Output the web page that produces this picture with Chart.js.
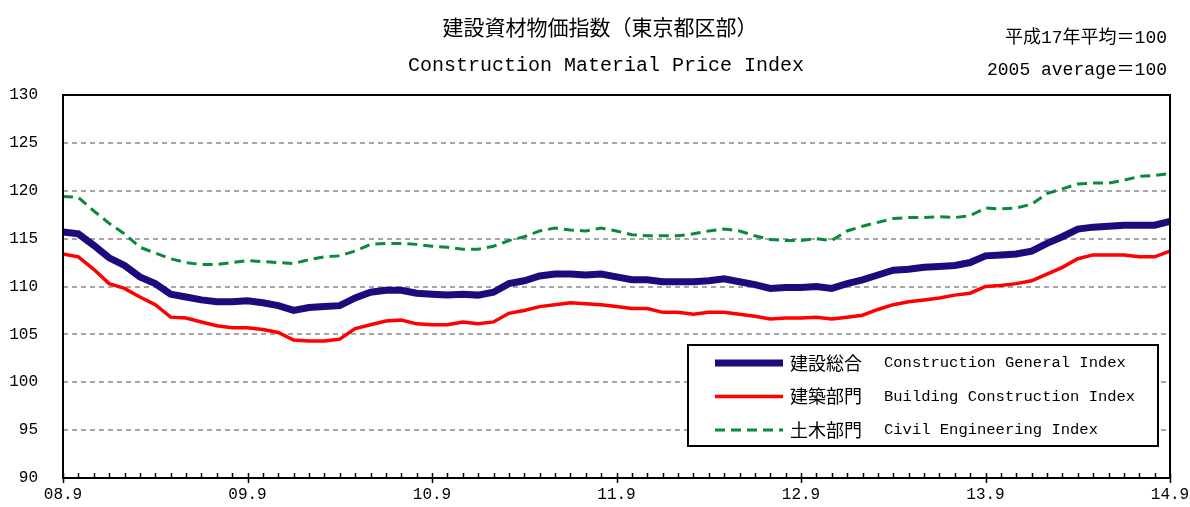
<!DOCTYPE html>
<html>
<head>
<meta charset="utf-8">
<script src="https://cdn.jsdelivr.net/npm/chart.js@4.4.1/dist/chart.umd.min.js"></script>
<style>
  body { margin: 0; background: #fff; }
  #wrap { width: 1190px; height: 507px; }
</style>
</head>
<body>
<div id="wrap"><canvas id="js--chart" width="1190" height="507"></canvas></div>
<script>
// monthly values, 2008.9 .. 2014.9
const generalIndex = [115.7, 115.5, 114.3, 113.0, 112.2, 111.0, 110.3, 109.2, 108.9, 108.6, 108.4, 108.4,
    108.5, 108.3, 108.0, 107.5, 107.8, 107.9, 108.0, 108.8, 109.4, 109.6, 109.6, 109.3,
    109.2, 109.1, 109.2, 109.1, 109.4, 110.3, 110.6, 111.1, 111.3, 111.3, 111.2, 111.3,
    111.0, 110.7, 110.7, 110.5, 110.5, 110.5, 110.6, 110.8, 110.5, 110.2, 109.8, 109.9,
    109.9, 110.0, 109.8, 110.3, 110.7, 111.2, 111.7, 111.8, 112.0, 112.1, 112.2, 112.5,
    113.2, 113.3, 113.4, 113.7, 114.5, 115.2, 116.0, 116.2, 116.3, 116.4, 116.4, 116.4,
    116.8];
const buildingIndex = [113.4, 113.1, 111.8, 110.3, 109.8, 108.9, 108.1, 106.8, 106.7, 106.3, 105.9, 105.7,
    105.7, 105.5, 105.2, 104.4, 104.3, 104.3, 104.5, 105.6, 106.0, 106.4, 106.5, 106.1,
    106.0, 106.0, 106.3, 106.1, 106.3, 107.2, 107.5, 107.9, 108.1, 108.3, 108.2, 108.1,
    107.9, 107.7, 107.7, 107.3, 107.3, 107.1, 107.3, 107.3, 107.1, 106.9, 106.6, 106.7,
    106.7, 106.8, 106.6, 106.8, 107.0, 107.6, 108.1, 108.4, 108.6, 108.8, 109.1, 109.3,
    110.0, 110.1, 110.3, 110.6, 111.3, 112.0, 112.9, 113.3, 113.3, 113.3, 113.1, 113.1,
    113.7];
const civilIndex = [119.4, 119.3, 117.9, 116.6, 115.5, 114.1, 113.5, 112.9, 112.5, 112.3, 112.3, 112.5,
    112.7, 112.6, 112.5, 112.4, 112.8, 113.1, 113.2, 113.7, 114.4, 114.5, 114.5, 114.4,
    114.2, 114.1, 113.9, 113.9, 114.2, 114.8, 115.2, 115.8, 116.1, 115.9, 115.8, 116.1,
    115.8, 115.4, 115.3, 115.3, 115.3, 115.5, 115.8, 116.0, 115.8, 115.3, 114.9, 114.8,
    114.8, 115.0, 114.8, 115.8, 116.3, 116.7, 117.1, 117.2, 117.2, 117.3, 117.2, 117.4,
    118.2, 118.1, 118.2, 118.6, 119.7, 120.2, 120.7, 120.8, 120.8, 121.1, 121.5, 121.6,
    121.8];

const yearTicks = ['08.9', '09.9', '10.9', '11.9', '12.9', '13.9', '14.9'];
const seriesJa = ['建設総合', '建築部門', '土木部門'];
const seriesEn = ['Construction General Index', 'Building Construction Index', 'Civil Engineering Index'];

// one category per month, labelled like 08.9, 08.10 ...
let months = [];
for (let i = 0; i < generalIndex.length; i++) {
    let m = 9 + i;
    let yy = 8 + Math.floor((m - 1) / 12);
    let mm = ((m - 1) % 12) + 1;
    months.push(String(yy).padStart(2, '0') + '.' + mm);
}

const monoFont = "'Liberation Mono', 'Noto Sans CJK JP', monospace";
const jpFont = "'Noto Sans CJK JP', 'Liberation Mono', sans-serif";

const extras = {
    id: 'extras',
    afterDatasetsDraw(chart) {
        const ctx = chart.ctx;
        const area = chart.chartArea;
        const x = chart.scales.x;
        ctx.save();
        // month ticks
        ctx.strokeStyle = '#000';
        ctx.lineWidth = 1.5;
        for (let i = 0; i < months.length; i++) {
            let px = Math.round(x.getPixelForValue(i)) + 0.5;
            ctx.beginPath();
            if (i % 12 === 0) {
                ctx.moveTo(px, area.bottom - 5);
                ctx.lineTo(px, area.bottom + 5);
            } else {
                ctx.moveTo(px, area.bottom - 5);
                ctx.lineTo(px, area.bottom);
            }
            ctx.stroke();
        }
        // frame
        ctx.lineWidth = 2;
        ctx.strokeRect(area.left, area.top, area.right - area.left, area.bottom - area.top);

        // legend box
        const bx = 688, by = 345, bw = 470, bh = 101;
        ctx.fillStyle = '#fff';
        ctx.fillRect(bx, by, bw, bh);
        ctx.lineWidth = 2;
        ctx.strokeStyle = '#000';
        ctx.strokeRect(bx, by, bw, bh);
        chart.data.datasets.forEach(function(ds, i) {
            let ly = 363 + i * 33.5;
            ctx.beginPath();
            ctx.strokeStyle = ds.borderColor;
            ctx.lineWidth = ds.borderWidth;
            ctx.setLineDash(ds.borderDash || []);
            ctx.moveTo(715, ly);
            ctx.lineTo(783, ly);
            ctx.stroke();
            ctx.setLineDash([]);
            ctx.fillStyle = '#000';
            ctx.textBaseline = 'middle';
            ctx.textAlign = 'left';
            ctx.font = '18px ' + jpFont;
            ctx.fillText(seriesJa[i], 790, ly);
            ctx.font = '15.5px ' + monoFont;
            ctx.fillText(seriesEn[i], 884, ly);
        });
        ctx.restore();
    },
    afterDraw(chart) {
        const ctx = chart.ctx;
        ctx.save();
        ctx.fillStyle = '#000';
        ctx.textBaseline = 'middle';
        ctx.textAlign = 'center';
        ctx.font = '21px ' + jpFont;
        ctx.fillText('建設資材物価指数（東京都区部）', 600, 27);
        ctx.font = '20px ' + monoFont;
        ctx.fillText('Construction Material Price Index', 606, 66);
        ctx.textAlign = 'right';
        ctx.font = '18px ' + monoFont;
        ctx.fillText('平成17年平均＝100', 1167, 38);
        ctx.fillText('2005 average＝100', 1167, 70);
        ctx.restore();
    }
};

const config = {
    type: 'line',
    data: {
        labels: months,
        datasets: [
            {
                label: seriesJa[0],
                data: generalIndex,
                borderColor: '#1a0c7c',
                borderWidth: 7,
                pointRadius: 0,
                tension: 0
            },
            {
                label: seriesJa[1],
                data: buildingIndex,
                borderColor: '#ff0000',
                borderWidth: 3.5,
                pointRadius: 0,
                tension: 0
            },
            {
                label: seriesJa[2],
                data: civilIndex,
                borderColor: '#0a8a3c',
                borderWidth: 3,
                borderDash: [10, 6],
                pointRadius: 0,
                tension: 0
            }
        ]
    },
    options: {
        responsive: false,
        animation: false,
        devicePixelRatio: 1,
        layout: { padding: { top: 95, right: 20, left: 0, bottom: 0 } },
        plugins: {
            legend: { display: false },
            title: { display: false },
            tooltip: { enabled: false }
        },
        scales: {
            x: {
                type: 'category',
                offset: false,
                afterFit: function(scale) { scale.height = 29; },
                grid: {
                    display: true,
                    drawOnChartArea: false,
                    drawTicks: true,
                    tickLength: 7,
                    color: 'rgba(0,0,0,0)',
                    tickColor: 'rgba(0,0,0,0)'
                },
                border: { display: false },
                ticks: {
                    autoSkip: false,
                    maxRotation: 0,
                    padding: 0,
                    color: '#000',
                    font: { family: monoFont, size: 16 },
                    callback: function(value, index) {
                        return index % 12 === 0 ? yearTicks[index / 12] : null;
                    }
                }
            },
            y: {
                min: 90,
                max: 130,
                afterFit: function(scale) { scale.width = 63; },
                grid: {
                    drawTicks: true,
                    tickLength: 22,
                    tickColor: 'rgba(0,0,0,0)',
                    lineWidth: 2,
                    color: function(c) {
                        return (c.tick.value === 90 || c.tick.value === 130) ? 'rgba(0,0,0,0)' : '#a6a6a6';
                    }
                },
                border: { display: false, dash: [5, 4] },
                ticks: {
                    stepSize: 5,
                    padding: 3,
                    color: '#000',
                    font: { family: monoFont, size: 16 }
                }
            }
        }
    },
    plugins: [extras]
};

const chart = new Chart(document.getElementById('js--chart'), config);
</script>
</body>
</html>
